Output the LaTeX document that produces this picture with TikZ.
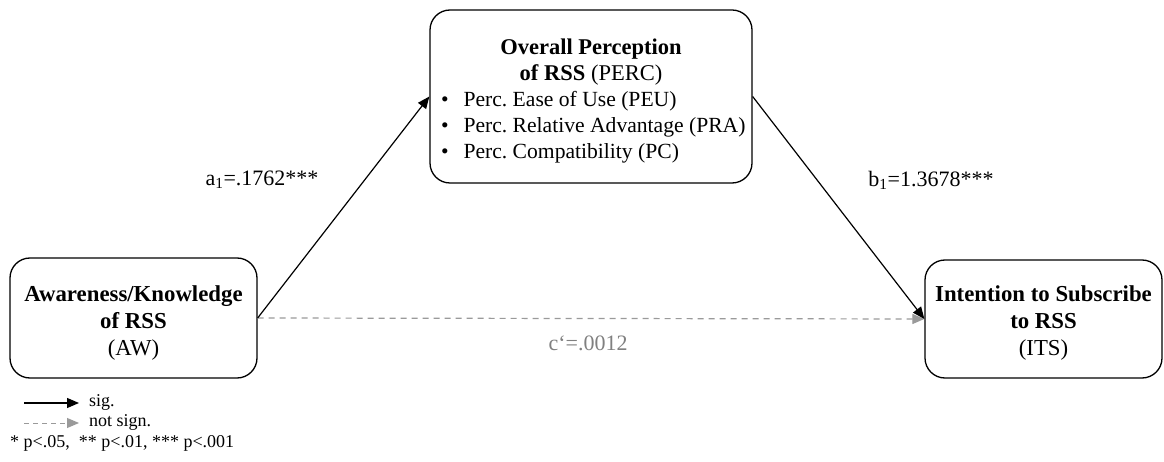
\documentclass[tikz,border=0pt]{standalone}
\usepackage{fontspec}
\setmainfont{Liberation Serif}
\usetikzlibrary{arrows.meta}
\definecolor{nsgray}{HTML}{9A9A9A}
\definecolor{lblgray}{HTML}{808080}
\frenchspacing
\newcommand{\bulletline}[1]{\makebox[300pt][l]{\fontsize{21.6}{26}\selectfont\textbullet\hspace{15pt}#1}}
\begin{document}
\begin{tikzpicture}[x=1pt,y=-1pt,
  box/.style={draw, line width=1.3pt, rounded corners=20pt, align=center, inner sep=0pt,
              font=\fontsize{22.8}{26.8}\selectfont},
  sigarrow/.style={draw=black, line width=1.2pt, -{Triangle[length=12pt,width=10pt]}},
  nsarrow/.style={draw=nsgray, line width=1.2pt, dash pattern=on 6pt off 5pt,
                  -{Triangle[length=12pt,width=10pt]}},
  lbl/.style={font=\fontsize{22}{25}\selectfont, inner sep=0pt},
  legtext/.style={font=\fontsize{18}{20}\selectfont, inner sep=0pt, anchor=west}
]
\useasboundingbox[fill=white] (0,0) rectangle (1164,462);

\node[box, minimum width=322pt, minimum height=173pt, font=\fontsize{22.5}{26}\selectfont] (perc) at (591,96.5)
  {\rule{0pt}{24pt}\textbf{Overall Perception}\\
   \textbf{of RSS} (PERC)\\
   \bulletline{Perc. Ease of Use (PEU)}\\
   \bulletline{Perc. Relative Advantage (PRA)}\\
   \bulletline{Perc. Compatibility (PC)}};

\node[box, minimum width=247pt, minimum height=120pt] (aw) at (133.5,318)
  {\rule{0pt}{26pt}\textbf{Awareness/Knowledge}\\ \textbf{of RSS}\\ (AW)};

\node[box, minimum width=237pt, minimum height=118pt] (its) at (1043.5,319)
  {\rule{0pt}{24pt}\textbf{Intention to Subscribe}\\ \textbf{to RSS}\\ (ITS)};

\draw[nsarrow] (aw.east) -- (its.west);
\draw[sigarrow] (aw.east) -- (perc.west);
\draw[sigarrow] (perc.east) -- (its.west);

\node[lbl] (la) at (262,180) {a\textsubscript{1}=.1762***};
\node[lbl] (lb) at (931,180) {b\textsubscript{1}=1.3678***};
\node[lbl, text=lblgray] (lc) at (588,343) {c‘=.0012};

\coordinate (s1) at (24,403);
\coordinate (s2) at (79,403);
\coordinate (n1) at (24,423);
\coordinate (n2) at (79,423);
\draw[sigarrow, line width=1.3pt] (s1) -- (s2);
\draw[nsarrow, line width=1pt, dash pattern=on 5pt off 4pt] (n1) -- (n2);
\node[legtext] (ls) at (89,402) {sig.};
\node[legtext] (ln) at (89,422) {not sign.};
\node[legtext] (lp) at (10,443) {* p<.05,\ \ ** p<.01, *** p<.001};
\end{tikzpicture}
\end{document}
